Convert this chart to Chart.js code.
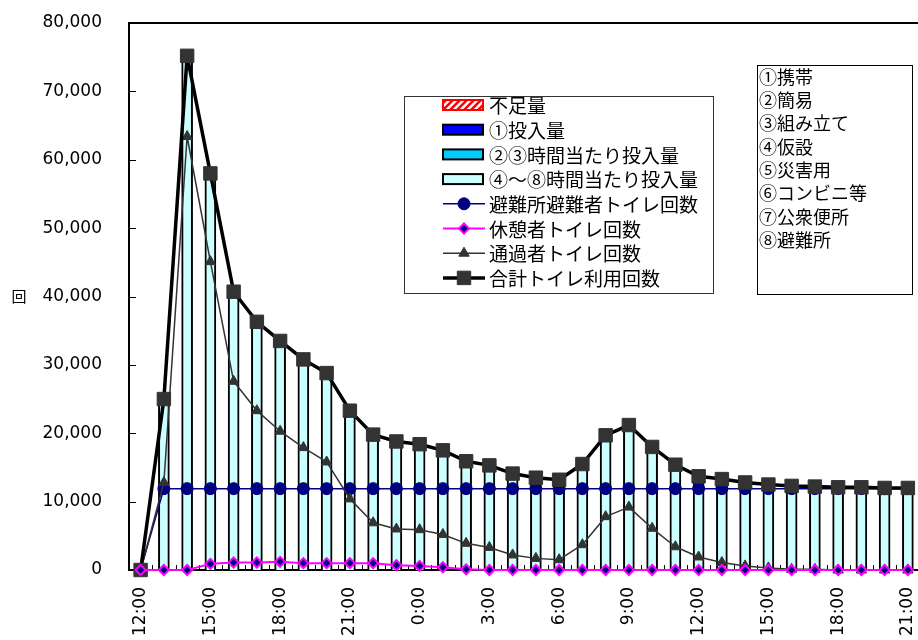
<!DOCTYPE html>
<html lang="ja">
<head>
<meta charset="utf-8">
<title>トイレ利用回数と投入量</title>
<script src="https://cdn.jsdelivr.net/npm/chart.js@4.4.1/dist/chart.umd.min.js"></script>
<style>
    html, body { margin: 0; padding: 0; background: #fff; overflow: hidden; }
    #wrap { width: 930px; height: 640px; }
</style>
</head>
<body>
<div id="wrap"><canvas id="toilet-chart" width="930" height="640"></canvas></div>
<script>
// 時刻（1時間ごと、12:00 〜 翌日21:00）
const hours = ['12:00', '13:00', '14:00', '15:00', '16:00', '17:00', '18:00', '19:00', '20:00', '21:00', '22:00', '23:00',
    '0:00', '1:00', '2:00', '3:00', '4:00', '5:00', '6:00', '7:00', '8:00', '9:00', '10:00', '11:00',
    '12:00', '13:00', '14:00', '15:00', '16:00', '17:00', '18:00', '19:00', '20:00', '21:00'];

// 投入量（棒）
const shortage = [0, 0, 0, 0, 0, 0, 0, 0, 0, 0, 0, 0, 0, 0, 0, 0, 0, 0, 0, 0, 0, 0, 0, 0, 0, 0, 0, 0, 0, 0, 0, 0, 0, 0];
const supply1 = [0, 0, 0, 0, 0, 0, 0, 0, 0, 0, 0, 0, 0, 0, 0, 0, 0, 0, 0, 0, 0, 0, 0, 0, 0, 0, 0, 0, 0, 0, 0, 0, 0, 0];
const supply23 = [0, 0, 0, 0, 0, 0, 0, 0, 0, 0, 0, 0, 0, 0, 0, 0, 0, 0, 0, 0, 0, 0, 0, 0, 0, 0, 0, 0, 0, 0, 0, 0, 0, 0];
const supply48 = [0, 25000, 75200, 58000, 40700, 36300, 33500, 30800, 28800, 23300, 19800, 18800,
    18400, 17500, 15900, 15300, 14100, 13500, 13200, 15500, 19700, 21200, 18000, 15400,
    13700, 13300, 12800, 12500, 12300, 12200, 12100, 12100, 12000, 12000];

// トイレ回数（折れ線）
const shelterUse = [0, 11900, 11900, 11900, 11900, 11900, 11900, 11900, 11900, 11900, 11900, 11900,
    11900, 11900, 11900, 11900, 11900, 11900, 11900, 11900, 11900, 11900, 11900, 11900,
    11900, 11900, 11900, 11900, 11900, 11900, 11900, 11900, 11900, 11900];
const restUse = [0, 0, 0, 900, 1100, 1100, 1200, 1000, 1000, 1000, 1000, 700,
    600, 400, 100, 0, 0, 0, 0, 0, 0, 0, 0, 0,
    0, 0, 0, 0, 0, 0, 0, 0, 0, 0];
const transitUse = [0, 12800, 63400, 45100, 27600, 23300, 20300, 17900, 15800, 10400, 6900, 6000,
    5900, 5200, 3900, 3300, 2200, 1700, 1500, 3700, 7800, 9200, 6100, 3400,
    1900, 1100, 600, 300, 100, 100, 0, 0, 0, 0];
const totalUse = [0, 25000, 75200, 58000, 40700, 36300, 33500, 30800, 28800, 23300, 19800, 18800,
    18400, 17500, 15900, 15300, 14100, 13500, 13200, 15500, 19700, 21200, 18000, 15400,
    13700, 13300, 12800, 12500, 12300, 12200, 12100, 12100, 12000, 12000];

// 右上の凡例テキスト
const toiletTypes = ['①携帯', '②簡易', '③組み立て', '④仮設', '⑤災害用', '⑥コンビニ等', '⑦公衆便所', '⑧避難所'];

const tickFont = { family: '"DejaVu Sans"', size: 17 };
const jpFont = '"Noto Sans CJK JP"';

// 不足量のハッチ
function hatchPattern() {
    const c = document.createElement('canvas');
    c.width = 7; c.height = 7;
    const g = c.getContext('2d');
    g.fillStyle = '#fff';
    g.fillRect(0, 0, 7, 7);
    g.strokeStyle = '#FF0000';
    g.lineWidth = 2.5;
    g.beginPath();
    g.moveTo(-1, 8); g.lineTo(8, -1);
    g.moveTo(-4, 4); g.lineTo(4, -4);
    g.moveTo(3, 11); g.lineTo(11, 3);
    g.stroke();
    return g.createPattern(c, 'repeat');
}

function barSet(label, data, fill, border) {
    return {
        type: 'bar', label: label, data: data,
        backgroundColor: fill, borderColor: border, borderWidth: 2,
        barThickness: 11, grouped: false, order: 10
    };
}

function lineSet(label, data, o) {
    return Object.assign({
        type: 'line', label: label, data: data,
        tension: 0, clip: false, fill: false,
        borderJoinStyle: 'round'
    }, o);
}

// 軸の内向き目盛り・上枠・凡例・テキストボックス
const decorations = {
    id: 'decorations',
    beforeDatasetsDraw(chart) {
        const ctx = chart.ctx;
        const area = chart.chartArea;
        const y = chart.scales.y, x = chart.scales.x;
        ctx.save();
        ctx.strokeStyle = '#000';
        ctx.lineWidth = 1;
        ctx.beginPath();
        y.ticks.forEach((t, i) => {
            const py = Math.round(y.getPixelForTick(i)) + 0.5;
            ctx.moveTo(area.left, py);
            ctx.lineTo(area.left + 7, py);
        });
        const step = x.getPixelForValue(1) - x.getPixelForValue(0);
        for (let i = 0; i <= hours.length; i++) {
            const px = Math.round(x.getPixelForValue(i) - step / 2) + 0.5;
            ctx.moveTo(px, area.bottom);
            ctx.lineTo(px, area.bottom - 5);
        }
        ctx.stroke();
        ctx.restore();
    },
    afterDraw(chart) {
        const ctx = chart.ctx;
        const area = chart.chartArea;
        ctx.save();

        // 上枠・右枠
        ctx.fillStyle = '#000';
        ctx.fillRect(area.left - 1, area.top - 1, area.right - area.left + 2, 2);
        ctx.fillRect(area.right - 1, area.top - 1, 2, area.bottom - area.top + 2);

        // 縦軸ラベル
        ctx.font = '15px ' + jpFont;
        ctx.textAlign = 'center';
        ctx.textBaseline = 'middle';
        ctx.fillText('回', 19, (area.top + area.bottom) / 2);

        // 凡例
        const bx = 404, by = 96, bw = 309, bh = 197;
        ctx.fillStyle = '#fff';
        ctx.fillRect(bx, by, bw, bh);
        ctx.strokeStyle = '#333';
        ctx.lineWidth = 1;
        ctx.strokeRect(bx + 0.5, by + 0.5, bw, bh);

        chart.data.datasets.forEach((ds, i) => {
            const cy = 105 + i * 24.7;
            const x0 = 443, x1 = 485, xm = (x0 + x1) / 2;
            if (ds.type === 'bar') {
                ctx.fillStyle = ds.backgroundColor;
                ctx.fillRect(x0, cy - 5, 40, 10);
                ctx.strokeStyle = ds.borderColor;
                ctx.lineWidth = 2;
                ctx.strokeRect(x0, cy - 5, 40, 10);
            } else {
                ctx.strokeStyle = ds.borderColor;
                ctx.lineWidth = ds.borderWidth;
                ctx.beginPath();
                ctx.moveTo(x0, cy);
                ctx.lineTo(x1, cy);
                ctx.stroke();
                ctx.fillStyle = ds.pointBackgroundColor;
                ctx.strokeStyle = ds.pointBorderColor;
                ctx.lineWidth = ds.pointBorderWidth;
                Chart.helpers.drawPoint(ctx, {
                    pointStyle: ds.pointStyle, radius: ds.pointRadius,
                    rotation: 0, borderWidth: ds.pointBorderWidth
                }, xm, cy);
            }
            ctx.fillStyle = '#000';
            ctx.font = '19px ' + jpFont;
            ctx.textAlign = 'left';
            ctx.textBaseline = 'middle';
            ctx.fillText(ds.label, 489, cy + 1);
        });

        // トイレ種類のテキストボックス
        ctx.fillStyle = '#fff';
        ctx.fillRect(757, 65, 155, 229);
        ctx.strokeStyle = '#000';
        ctx.lineWidth = 1;
        ctx.strokeRect(757.5, 65.5, 155, 229);
        ctx.fillStyle = '#000';
        ctx.font = '18px ' + jpFont;
        toiletTypes.forEach((t, i) => {
            ctx.fillText(t, 759, 77 + i * 23.3);
        });
        ctx.restore();
    }
};

const ctx = document.getElementById('toilet-chart').getContext('2d');
const toiletChart = new Chart(ctx, {
    data: {
        labels: hours,
        datasets: [
            barSet('不足量', shortage, hatchPattern(), '#FF0000'),
            barSet('①投入量', supply1, '#0000FF', '#000'),
            barSet('②③時間当たり投入量', supply23, '#00CCFF', '#000'),
            barSet('④～⑧時間当たり投入量', supply48, '#CCFFFF', '#000'),
            lineSet('避難所避難者トイレ回数', shelterUse, {
                borderColor: '#000080', borderWidth: 1.5,
                pointStyle: 'circle', pointRadius: 6,
                pointBackgroundColor: '#000080', pointBorderColor: '#000080', pointBorderWidth: 1,
                order: 3
            }),
            lineSet('休憩者トイレ回数', restUse, {
                borderColor: '#FF00FF', borderWidth: 2,
                pointStyle: 'rectRot', pointRadius: 5,
                pointBackgroundColor: '#000080', pointBorderColor: '#FF00FF', pointBorderWidth: 2,
                order: 0
            }),
            lineSet('通過者トイレ回数', transitUse, {
                borderColor: '#333333', borderWidth: 1.5,
                pointStyle: 'triangle', pointRadius: 6,
                pointBackgroundColor: '#333333', pointBorderColor: '#333333', pointBorderWidth: 1,
                order: 2
            }),
            lineSet('合計トイレ利用回数', totalUse, {
                borderColor: '#000000', borderWidth: 3.5,
                pointStyle: 'rect', pointRadius: 9.5,
                pointBackgroundColor: '#333333', pointBorderColor: '#333333', pointBorderWidth: 1,
                order: 1
            })
        ]
    },
    options: {
        responsive: false,
        animation: false,
        devicePixelRatio: 1,
        layout: { padding: { top: 23, right: 6, left: 0, bottom: 0 } },
        plugins: {
            legend: { display: false },
            tooltip: { enabled: false }
        },
        scales: {
            x: {
                offset: true,
                grid: { display: false, drawTicks: false },
                border: { display: true, color: '#000', width: 2 },
                ticks: {
                    autoSkip: false,
                    maxRotation: 90, minRotation: 90,
                    padding: 17,
                    color: '#000',
                    font: tickFont,
                    callback: function (value, index) {
                        return index % 3 === 0 ? hours[index] : '';
                    }
                },
                afterFit: function (scale) {
                    scale.height = 70;
                    scale.paddingLeft = 0;
                    scale.paddingRight = 0;
                }
            },
            y: {
                min: 0, max: 80000,
                grid: { display: false, drawTicks: false },
                border: { display: true, color: '#000', width: 2 },
                ticks: {
                    stepSize: 10000,
                    padding: 27,
                    color: '#000',
                    font: tickFont,
                    callback: function (value) { return value.toLocaleString('en-US'); }
                },
                afterFit: function (scale) {
                    scale.width = 129;
                    scale.paddingTop = 0;
                    scale.paddingBottom = 0;
                }
            }
        }
    },
    plugins: [decorations]
});
</script>
</body>
</html>
